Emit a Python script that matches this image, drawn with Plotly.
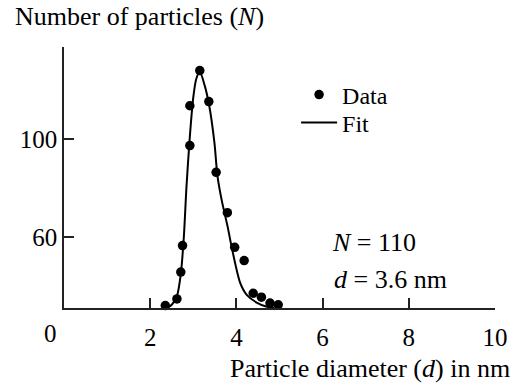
import plotly.graph_objects as go

# Data points (particle diameter in nm, number of particles)
data_d = [2.35, 2.62, 2.71, 2.75, 2.92, 2.92, 3.15, 3.36, 3.53, 3.79, 3.96, 4.18, 4.39, 4.58, 4.78, 4.97]
data_n = [32.2, 34.9, 45.8, 56.6, 97.3, 113.5, 127.8, 115.2, 86.4, 70.0, 55.9, 50.5, 37.2, 35.6, 33.2, 32.5]

# Fit curve
fit_d = [2.38, 2.50, 2.62, 2.71, 2.78, 2.84, 2.92, 3.00, 3.07, 3.15, 3.26, 3.37, 3.49, 3.56,
         3.66, 3.80, 3.89, 4.09, 4.24, 4.47, 4.69, 4.88]
fit_n = [31.2, 32.5, 36.0, 45.0, 60.0, 80.0, 101.0, 117.0, 124.5, 127.2, 122.0, 113.5, 98.5, 85.0,
         75.0, 64.0, 56.0, 41.3, 36.5, 33.4, 31.8, 31.2]

x_ticks = [2, 4, 6, 8, 10]
x_ticktext = ["2", "4", "6", "8", "10"]
y_ticks = [60, 100]
y_ticktext = ["60", "100"]

FONT = "Liberation Serif, Times New Roman, serif"
FS_TICK = 25
FS = 26
FS_LEG = 24

fig = go.Figure()
fig.add_trace(go.Scatter(x=data_d, y=data_n, mode="markers", name="Data", legend="legend",
                         marker=dict(color="black", size=9.5), cliponaxis=False))
fig.add_trace(go.Scatter(x=fit_d, y=fit_n, mode="lines", name="Fit", legend="legend2",
                         line=dict(color="black", width=2, shape="spline", smoothing=0.8),
                         cliponaxis=True))

pl, pr, pt, pb = 64, 14, 47, 75
pw, ph = 520 - pl - pr, 383 - pt - pb

def px(x):
    return (x - pl) / pw

def py(y):
    return (383 - pb - y) / ph

leg_common = dict(xanchor="left", yanchor="middle", bgcolor="rgba(0,0,0,0)",
                  font=dict(size=FS_LEG), itemwidth=36, borderwidth=0)

fig.update_layout(
    width=520, height=383,
    margin=dict(l=pl, r=pr, t=pt, b=pb),
    paper_bgcolor="white", plot_bgcolor="white",
    font=dict(family=FONT, size=FS, color="black"),
    showlegend=True,
    legend=dict(x=px(302), y=py(95), **leg_common),
    legend2=dict(x=px(302), y=py(123), **leg_common),
    xaxis=dict(range=[0, 10], showgrid=False, zeroline=False,
               showline=True, linecolor="#222", linewidth=1.5,
               ticks="inside", ticklen=10, tickwidth=1.5, tickcolor="#222",
               tickvals=x_ticks, ticktext=x_ticktext, ticklabelstandoff=6,
               tickfont=dict(size=FS_TICK)),
    yaxis=dict(range=[31.2, 137.4], showgrid=False, zeroline=False,
               showline=True, linecolor="#222", linewidth=1.5,
               ticks="inside", ticklen=10, tickwidth=1.5, tickcolor="#222",
               tickvals=y_ticks, ticktext=y_ticktext, tickfont=dict(size=FS_TICK)),
    annotations=[
        dict(text="0", x=0, y=0, xref="x", yref="paper", xshift=-14, yshift=-10,
             showarrow=False, xanchor="center", yanchor="top", font=dict(size=FS_TICK)),
        dict(text="Number of particles (<i>N</i>)", x=px(12), y=py(17), xref="paper", yref="paper",
             showarrow=False, xanchor="left", yanchor="middle", font=dict(size=FS)),
        dict(text="Particle diameter (<i>d</i>) in nm", x=px(232), y=py(368), xref="paper", yref="paper",
             showarrow=False, xanchor="left", yanchor="middle", font=dict(size=FS)),
        dict(text="<i>N</i> = 110", x=px(337), y=py(242), xref="paper", yref="paper",
             showarrow=False, xanchor="left", yanchor="middle", font=dict(size=FS)),
        dict(text="<i>d</i> = 3.6 nm", x=px(339), y=py(279), xref="paper", yref="paper",
             showarrow=False, xanchor="left", yanchor="middle", font=dict(size=FS)),
    ],
)

fig.write_html("out.html")
